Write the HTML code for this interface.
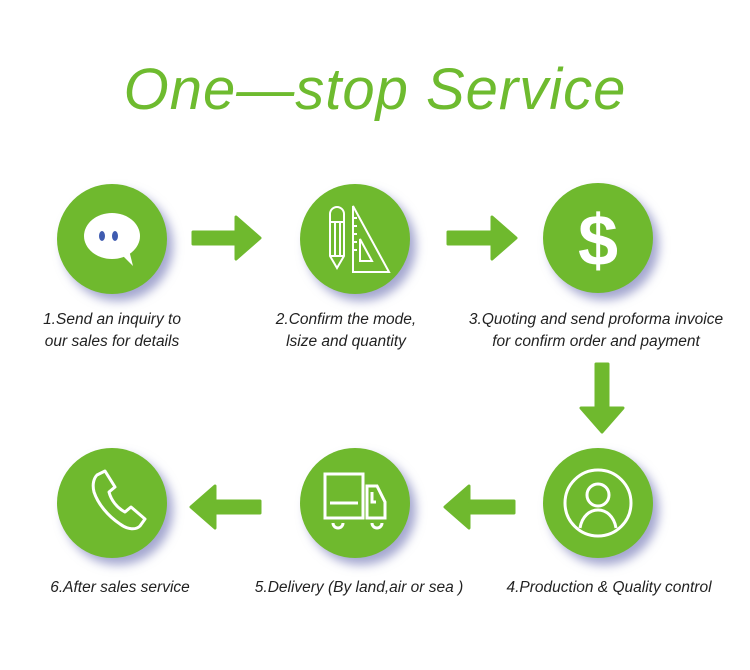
<!DOCTYPE html>
<html><head><style>
body{margin:0;width:750px;height:670px;background:#fff;position:relative;font-family:"Liberation Sans",sans-serif;overflow:hidden}
.t{position:absolute;left:0;width:750px;top:56px;text-align:center;font-style:italic;color:#6ebb2f;font-size:58px;letter-spacing:1px}
.c{position:absolute;width:110px;height:110px;border-radius:50%;background:#6fb92e;box-shadow:6px 7px 10px rgba(90,95,170,.55)}
.c svg{position:absolute;left:0;top:0}
.l{position:absolute;font-style:italic;font-size:15.5px;color:#222;text-align:center;line-height:22px;width:300px}
</style></head><body>
<div class="t">One—stop Service</div>
<svg width="750" height="670" style="position:absolute;left:0;top:0">
<g fill="#6fb92e" stroke="#6fb92e" stroke-width="3" stroke-linejoin="round">
<path d="M193,232 h43 v-15 l24,21 l-24,21 v-15 h-43z"/>
<path d="M448,232 h44 v-15 l24,21 l-24,21 v-15 h-44z"/>
<path d="M596,364 h12 v44 h15 l-21,24 l-21,-24 h15z"/>
<path d="M260,501 h-45 v-15 l-24,21 l24,21 v-15 h45z"/>
<path d="M514,501 h-45 v-15 l-24,21 l24,21 v-15 h45z"/>
</g></svg>
<div class="c" style="left:57px;top:184px"><svg width="110" height="110">
<ellipse cx="55" cy="52" rx="28" ry="23" fill="#fff"/><path d="M64,70 L76,82 L72,66z" fill="#fff"/>
<ellipse cx="45" cy="52" rx="3" ry="5" fill="#3f5bb0"/><ellipse cx="58" cy="52" rx="3" ry="5" fill="#3f5bb0"/></svg></div>
<div class="c" style="left:300px;top:184px"><svg width="110" height="110" fill="none" stroke="#fff" stroke-width="2">
<path d="M30,30 a7,7 0 0 1 14,0 v42 l-7,12 l-7,-12z M30,38 h14 M35,38 v34 M40,38 v34 M30,72 h14"/>
<path d="M53,22 v66 h36z M60,55 v22 h12z M53,34 h4 M53,42 h4 M53,50 h4 M53,58 h4 M53,66 h4"/></svg></div>
<div class="c" style="left:543px;top:183px"><svg width="110" height="110"><text x="55" y="82" text-anchor="middle" font-family="Liberation Sans" font-weight="bold" font-size="72" fill="#fff">$</text></svg></div>
<div class="c" style="left:543px;top:448px"><svg width="110" height="110" fill="none" stroke="#fff" stroke-width="3">
<circle cx="55" cy="55" r="33"/><circle cx="55" cy="47" r="11"/><path d="M37,80 c2,-12 10,-18 18,-18 c8,0 16,6 18,18"/></svg></div>
<div class="c" style="left:300px;top:448px"><svg width="110" height="110" fill="none" stroke="#fff" stroke-width="3">
<rect x="25" y="26" width="38" height="44"/><path d="M30,55 h28"/><path d="M67,38 h10 l8,16 v16 h-18z M72,44 v10 h4"/>
<path d="M33,75 a5,5 0 0 0 10,0 M72,75 a5,5 0 0 0 10,0"/></svg></div>
<div class="c" style="left:57px;top:448px"><svg width="110" height="110" fill="none" stroke="#fff" stroke-width="3" stroke-linejoin="round">
<path d="M40,27 l8,-4 l10,16 l-6,5 c2,8 8,16 16,20 l6,-5 l14,12 l-5,7 c-4,4 -12,4 -20,-2 c-12,-8 -22,-20 -26,-32 c-2,-8 0,-14 3,-17z"/></svg></div>
<div class="l" style="left:-38px;top:309px">1.Send an inquiry to<br>our sales for details</div>
<div class="l" style="left:196px;top:309px">2.Confirm the mode,<br>lsize and quantity</div>
<div class="l" style="left:446px;top:309px;width:300px">3.Quoting and send proforma invoice<br>for confirm order and payment</div>
<div class="l" style="left:-30px;top:577px">6.After sales service</div>
<div class="l" style="left:209px;top:577px">5.Delivery (By land,air or sea )</div>
<div class="l" style="left:459px;top:577px">4.Production &amp; Quality control</div>
</body></html>
